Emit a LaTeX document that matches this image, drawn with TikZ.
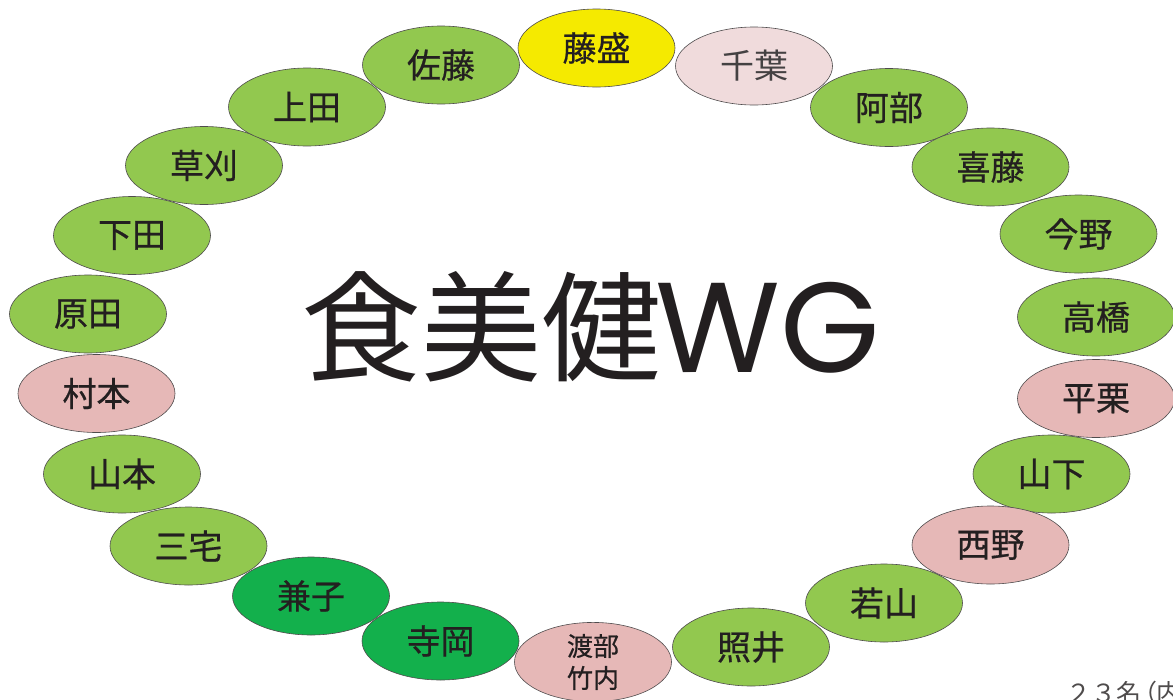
\documentclass[tikz,border=0pt]{standalone}
\usepackage{fontspec}
\usetikzlibrary{shapes.geometric}
\newfontfamily\jp{Noto Sans CJK JP}
\newfontfamily\jpm[FakeBold=0.6]{Noto Sans CJK JP}
\newfontfamily\wgfont{Poppins}
\definecolor{lgreen}{HTML}{92C84F}
\definecolor{dgreen}{HTML}{13B04C}
\definecolor{ylw}{HTML}{F5EA00}
\definecolor{lpink}{HTML}{F0DBDC}
\definecolor{pnk}{HTML}{E6B8B7}
\definecolor{ink}{HTML}{231F20}
\tikzset{
  nm/.style={ellipse, draw=ink!80, line width=0.6pt, minimum width=157pt, minimum height=78pt,
    inner sep=0pt, text=ink, font=\jpm\fontsize{34}{38}\selectfont},
  lg/.style={nm, fill=lgreen},
  dg/.style={nm, fill=dgreen},
  pk/.style={nm, fill=pnk},
}
\begin{document}
\begin{tikzpicture}[x=1pt,y=-1pt]
\useasboundingbox (0,0) rectangle (1173,699);
\node[lg] (sato) at (441,65) {佐藤};
\node[nm, fill=ylw] (fujimori) at (596.5,48) {藤盛};
\node[nm, fill=lpink, text=ink!85, font=\jp\fontsize{34}{38}\selectfont] (chiba) at (754,66) {千葉};
\node[lg] (abe) at (889,107.5) {阿部};
\node[lg] (kito) at (990.5,167) {喜藤};
\node[lg] (konno) at (1078.5,234) {今野};
\node[lg] (takahashi) at (1096,317) {高橋};
\node[pk] (hiraguri) at (1096,398.5) {平栗};
\node[lg] (yamashita) at (1051.5,474) {山下};
\node[pk] (nishino) at (990.5,545) {西野};
\node[lg] (wakayama) at (884,603) {若山};
\node[lg] (terui) at (751,647) {照井};
\node[pk, align=center, font=\jpm\fontsize{26}{32}\selectfont] (watabe) at (593,662) {渡部\\竹内};
\node[dg] (teraoka) at (440.5,641) {寺岡};
\node[dg] (kaneko) at (311,596) {兼子};
\node[lg] (miyake) at (188.5,546) {三宅};
\node[lg] (yamamoto) at (122,474) {山本};
\node[pk] (muramoto) at (96.5,393.5) {村本};
\node[lg] (harada) at (88,314) {原田};
\node[lg] (shimoda) at (132,235.5) {下田};
\node[lg] (kusakari) at (204,165.5) {草刈};
\node[lg] (ueda) at (307,107) {上田};
\node[text=ink, font=\jp\fontsize{120}{130}\selectfont, inner sep=0pt] (title) at (481,327) {食美健};
\node[text=ink, font=\wgfont\fontsize{128}{130}\selectfont, inner sep=0pt, anchor=base west] (wg) at (655,372) {WG};
\node[text=ink!80, font=\jp\fontsize{25}{28}\selectfont, inner sep=0pt, anchor=base west] (count) at (1066,702) {２３名\kern-9pt（\kern-1pt内};
\end{tikzpicture}
\end{document}
